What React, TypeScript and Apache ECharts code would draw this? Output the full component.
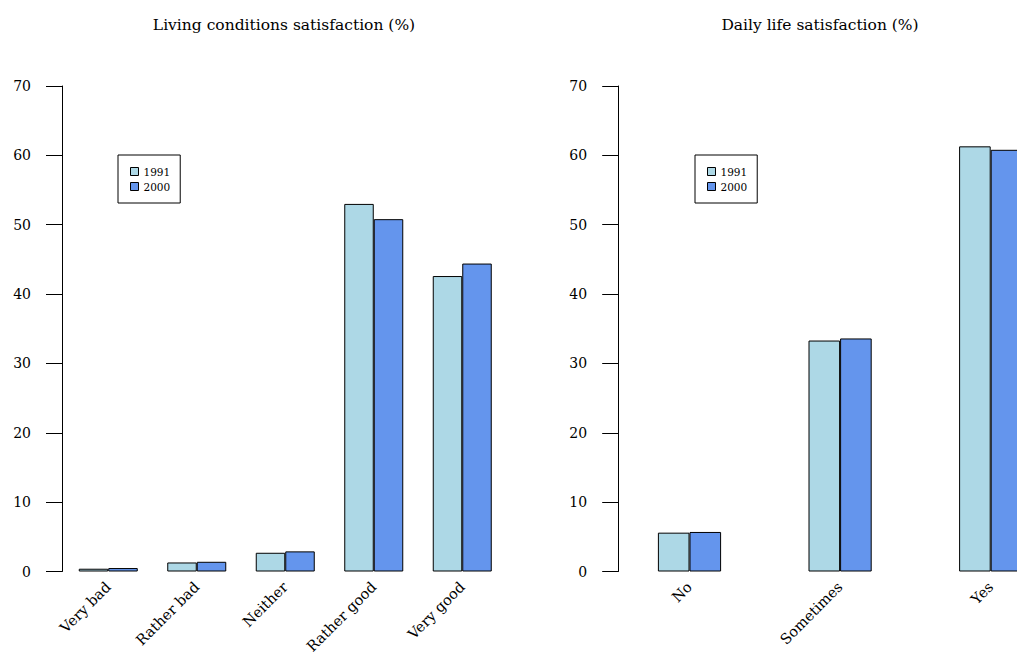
import React, { useEffect, useRef } from "react";
import * as echarts from "echarts";

const livingCategories = ["Very bad", "Rather bad", "Neither", "Rather good", "Very good"];
const living1991 = [0.4, 1.3, 2.7, 53.0, 42.6];
const living2000 = [0.5, 1.4, 2.9, 50.8, 44.4];

const dailyCategories = ["No", "Sometimes", "Yes"];
const daily1991 = [5.6, 33.3, 61.3];
const daily2000 = [5.7, 33.6, 60.8];

const yTicks = [0, 10, 20, 30, 40, 50, 60, 70];
const seriesNames = ["1991", "2000"];

const FONT = "DejaVu Serif";
const C1991 = "#ADD8E6";
const C2000 = "#6495ED";

export default function App() {
  const ref = useRef<HTMLDivElement>(null);
  useEffect(() => {
    if (!ref.current) return;
    const chart = echarts.init(ref.current, null, { renderer: "svg" });
    const yAxisBase = (gridIndex: number, offset: number) => ({
      type: "value",
      gridIndex,
      min: yTicks[0],
      max: yTicks[yTicks.length - 1],
      interval: 10,
      offset,
      splitLine: { show: false },
      axisLine: { show: true, lineStyle: { color: "#000", width: 1 } },
      axisTick: { show: true, length: 16, lineStyle: { color: "#000" } },
      axisLabel: { margin: 31, color: "#000", fontFamily: FONT, fontSize: 14 },
    });
    const xAxisBase = (gridIndex: number, data: string[]) => ({
      type: "category",
      gridIndex,
      data,
      axisLine: { show: false },
      axisTick: { show: false },
      axisLabel: {
        rotate: 45,
        margin: 13,
        interval: 0,
        color: "#000",
        fontFamily: FONT,
        fontSize: 14.5,
      },
    });
    const barStyle = (color: string) => ({ color, borderColor: "#000", borderWidth: 1 });
    const legendBase = (left: number) => ({
      orient: "vertical",
      left,
      top: 155,
      data: seriesNames.map((n) => ({ name: n, icon: "rect" })),
      itemWidth: 8,
      itemHeight: 8,
      itemGap: 4,
      padding: [11, 10, 11, 12],
      borderColor: "#000",
      borderWidth: 1,
      backgroundColor: "#fff",
      borderRadius: 0,
      selectedMode: false,
      textStyle: { fontFamily: FONT, fontSize: 10.5, color: "#000" },
      itemStyle: { borderColor: "#000", borderWidth: 1 },
    });
    chart.setOption({
      animation: false,
      backgroundColor: "#fff",
      title: [
        {
          text: "Living conditions satisfaction (%)",
          left: 279,
          top: 12,
          textAlign: "center",
          textStyle: { fontFamily: FONT, fontSize: 15.5, fontWeight: "normal", color: "#000" },
        },
        {
          text: "Daily life satisfaction (%)",
          left: 815,
          top: 12,
          textAlign: "center",
          textStyle: { fontFamily: FONT, fontSize: 15.5, fontWeight: "normal", color: "#000" },
        },
      ],
      legend: [legendBase(118), legendBase(695)],
      grid: [
        { left: 64, top: 86, width: 442.5, height: 485.5, outerBoundsMode: "none", containLabel: false },
        { left: 614.2, top: 86, width: 451.8, height: 485.5, outerBoundsMode: "none", containLabel: false },
      ],
      xAxis: [xAxisBase(0, livingCategories), xAxisBase(1, dailyCategories)],
      yAxis: [yAxisBase(0, 2), yAxisBase(1, -4)],
      series: [
        {
          name: seriesNames[0],
          type: "bar",
          xAxisIndex: 0,
          yAxisIndex: 0,
          data: living1991,
          barWidth: 29.5,
          barGap: "0%",
          itemStyle: barStyle(C1991),
        },
        {
          name: seriesNames[1],
          type: "bar",
          xAxisIndex: 0,
          yAxisIndex: 0,
          data: living2000,
          barWidth: 29.5,
          barGap: "0%",
          itemStyle: barStyle(C2000),
        },
        {
          name: seriesNames[0],
          type: "bar",
          xAxisIndex: 1,
          yAxisIndex: 1,
          data: daily1991,
          barWidth: 31.6,
          barGap: "0%",
          itemStyle: barStyle(C1991),
        },
        {
          name: seriesNames[1],
          type: "bar",
          xAxisIndex: 1,
          yAxisIndex: 1,
          data: daily2000,
          barWidth: 31.6,
          barGap: "0%",
          itemStyle: barStyle(C2000),
        },
      ],
    });
    return () => chart.dispose();
  }, []);
  return (
    <div
      style={{
        position: "fixed",
        left: 0,
        top: 0,
        width: 1017,
        height: 654,
        overflow: "hidden",
        background: "#fff",
      }}
    >
      <div ref={ref} style={{ width: 1100, height: 654 }} />
    </div>
  );
}
